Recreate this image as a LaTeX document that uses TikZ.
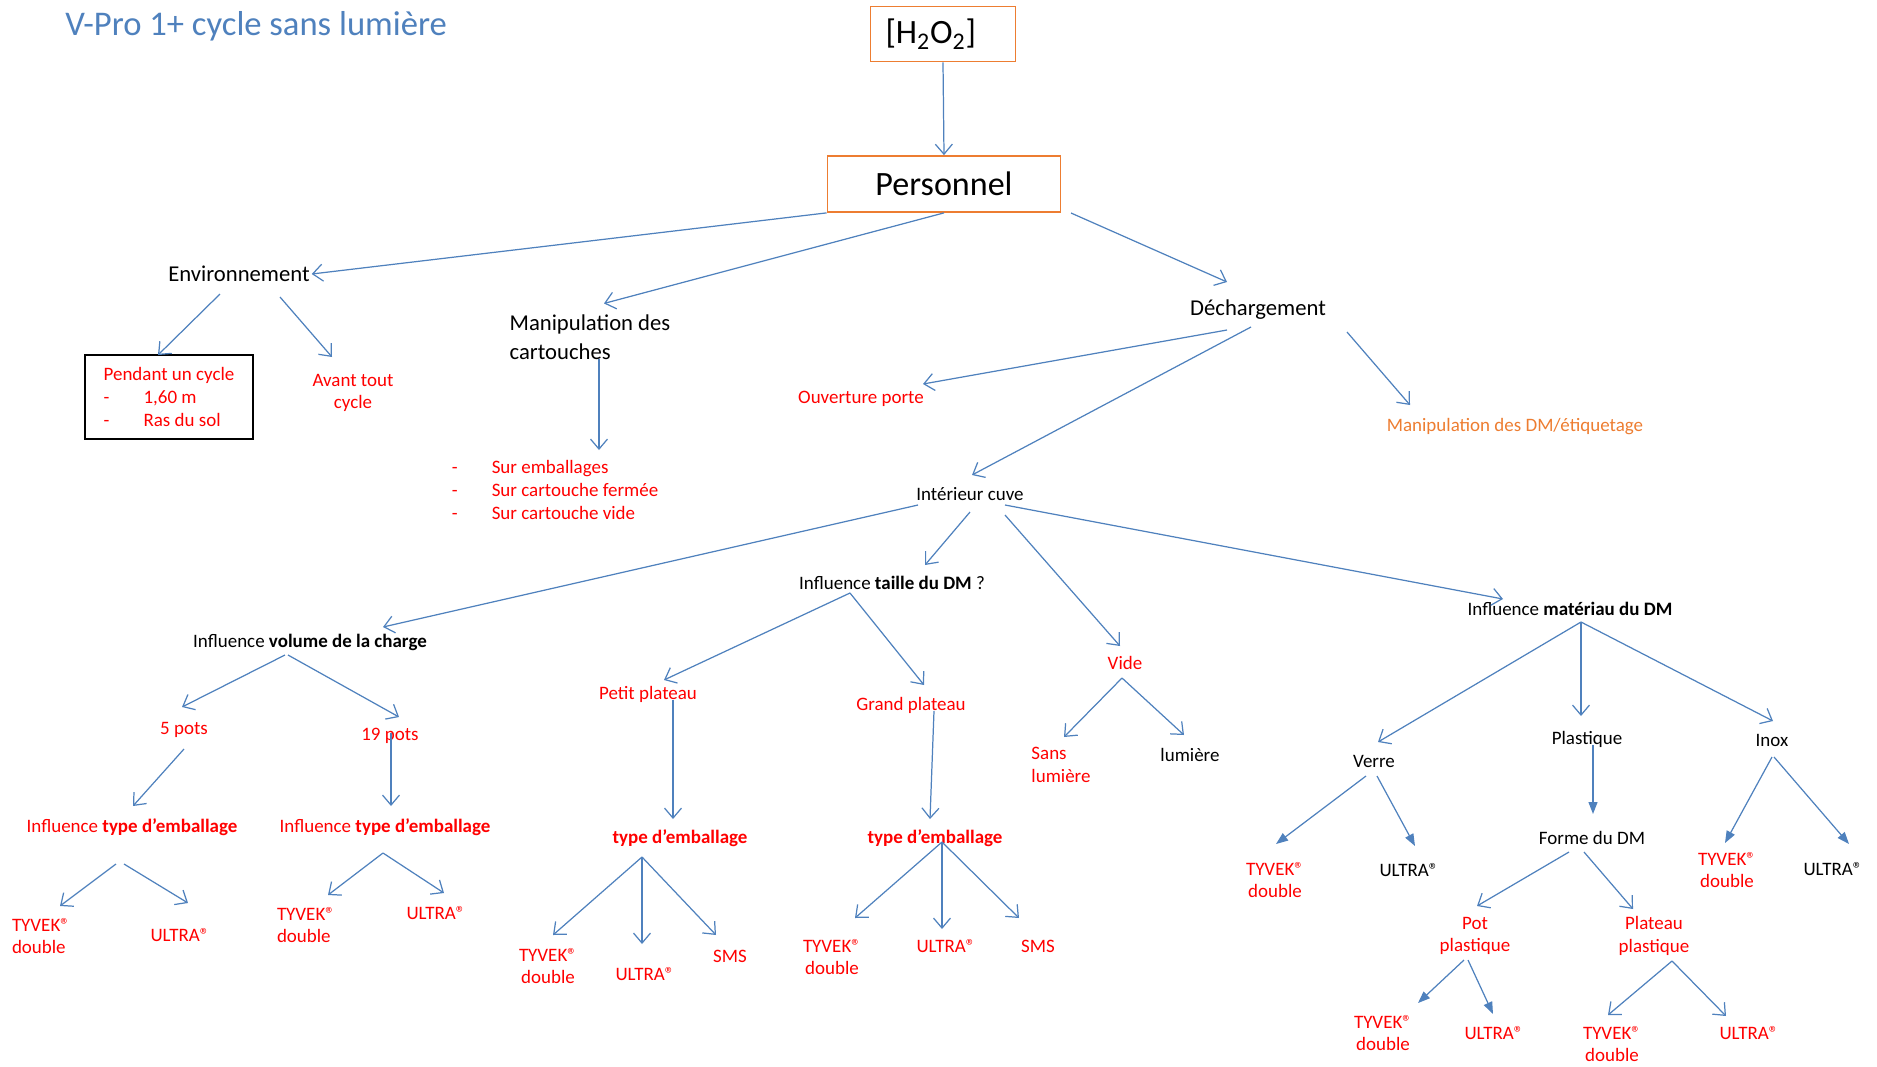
\documentclass[tikz,border=0pt]{standalone}
\usepackage{fontspec}
\setmainfont{Carlito}
\usetikzlibrary{arrows.meta,positioning}
\definecolor{arrowblue}{RGB}{79,129,189}
\definecolor{titleblue}{RGB}{79,129,189}
\definecolor{boxorange}{RGB}{237,125,49}
\definecolor{txtred}{RGB}{255,0,0}
\newcommand\fsm{\fontsize{10.8}{13}\selectfont}
\newcommand\fmd{\fontsize{12.9}{16.5}\selectfont}
\newcommand\fbig{\fontsize{19.4}{23}\selectfont}
\newcommand\fttl{\fontsize{19.7}{22}\selectfont}
\newcommand\regsign{®}

\begin{document}
\begin{tikzpicture}[
      x=0.02cm, y=-0.02cm,
      lbl/.style={inner sep=1pt, font=\fsm},
      rlbl/.style={lbl, text=txtred, align=center},
      mlbl/.style={inner sep=1pt, font=\fmd, align=left},
      obox/.style={draw=boxorange, line width=1pt, inner sep=0pt},
      arr/.style={-{Straight Barb[length=2mm,width=3.4mm]}, arrowblue, line width=0.7pt},
      farr/.style={-{Triangle[length=2.4mm,width=1.8mm]}, arrowblue, line width=0.7pt}
    ]
      \path[use as bounding box] (0,0) rectangle (1877,1066);

      % haut
      \node[anchor=west, inner sep=0pt, font=\fttl, text=titleblue] (title) at (65,26) {V-Pro 1+ cycle sans lumière};
      \node[obox, minimum width=2.9cm, minimum height=1.1cm, text width=2.3cm, inner xsep=0.3cm, align=left, font=\fbig] (h2o2) at (943,34) {[H\textsubscript{2}O\textsubscript{2}]};
      \node[obox, minimum width=4.66cm, minimum height=1.12cm, font=\fbig] (pers) at (944,184) {Personnel};

      % environnement
      \node[mlbl] (env) at (239,274) {Environnement};
      \node[draw=black, line width=1pt, minimum width=3.36cm, minimum height=1.68cm, align=left, text=txtred, font=\fsm] (pend) at (169,397) {Pendant un cycle\\\makebox[0.8cm][l]{-}1,60 m\\\makebox[0.8cm][l]{-}Ras du sol};
      \node[rlbl] (avant) at (353,393) {Avant tout\\cycle};

      % cartouches
      \node[mlbl] (manip) at (590,337) {Manipulation des\\cartouches};
      \node[lbl, text=txtred, align=left] (surs) at (555,490) {\makebox[0.8cm][l]{-}Sur emballages\\\makebox[0.8cm][l]{-}Sur cartouche fermée\\\makebox[0.8cm][l]{-}Sur cartouche vide};

      % dechargement
      \node[mlbl] (dech) at (1258,310) {Déchargement};
      \node[rlbl] (ouv) at (861,399) {Ouverture porte};
      \node[lbl, text=boxorange] (mdm) at (1515,427) {Manipulation des DM/étiquetage};
      \node[lbl] (cuve) at (970,494) {Intérieur cuve};

      % volume de la charge
      \node[lbl] (vol) at (310,642) {Influence \textbf{volume de la charge}};
      \node[rlbl] (p5) at (184,730) {5 pots};
      \node[rlbl] (p19) at (390,736) {19 pots};
      \node[rlbl] (tpl) at (132,827) {Influence \textbf{type d’emballage}};
      \node[rlbl] (tpr) at (385,827) {Influence \textbf{type d’emballage}};
      \node[rlbl, align=left] (tyl) at (41,936) {TYVEK\regsign\\double};
      \node[rlbl] (ull) at (180,935) {ULTRA\regsign};
      \node[rlbl, align=left] (tyr) at (306,925) {TYVEK\regsign\\double};
      \node[rlbl] (ulr) at (436,913) {ULTRA\regsign};

      % taille du DM
      \node[lbl] (taille) at (892,583) {Influence \textbf{taille du DM} ?};
      \node[rlbl] (petit) at (648,694) {Petit plateau};
      \node[rlbl] (grand) at (911,705) {Grand plateau};
      \node[rlbl, font=\fsm\bfseries] (tel) at (680,838) {type d’emballage};
      \node[rlbl, font=\fsm\bfseries] (ter) at (935,838) {type d’emballage};
      \node[rlbl] (tyel) at (548,966) {TYVEK\regsign\\double};
      \node[rlbl] (ulel) at (645,974) {ULTRA\regsign};
      \node[rlbl] (smsl) at (730,956) {SMS};
      \node[rlbl] (tyer) at (832,957) {TYVEK\regsign\\double};
      \node[rlbl] (uler) at (946,946) {ULTRA\regsign};
      \node[rlbl] (smsr) at (1038,946) {SMS};

      % vide
      \node[rlbl] (vide) at (1125,663) {Vide};
      \node[rlbl, align=left] (sansl) at (1061,765) {Sans\\lumière};
      \node[lbl] (lum) at (1190,755) {lumière};

      % materiau du DM
      \node[lbl] (mat) at (1570,609) {Influence \textbf{matériau du DM}};
      \node[lbl] (verre) at (1374,761) {Verre};
      \node[lbl] (plast) at (1587,739) {Plastique};
      \node[lbl] (inox) at (1772,740) {Inox};
      \node[rlbl] (tyv) at (1275,880) {TYVEK\regsign\\double};
      \node[lbl] (ulv) at (1409,870) {ULTRA\regsign};
      \node[lbl] (forme) at (1592,838) {Forme du DM};
      \node[rlbl] (pot) at (1475,936) {Pot\\plastique};
      \node[rlbl] (plat) at (1654,936) {Plateau\\plastique};
      \node[rlbl] (typ) at (1383,1033) {TYVEK\regsign\\double};
      \node[rlbl] (ulp) at (1494,1033) {ULTRA\regsign};
      \node[rlbl] (typl) at (1612,1044) {TYVEK\regsign\\double};
      \node[rlbl] (ulpl) at (1749,1033) {ULTRA\regsign};
      \node[rlbl] (tyi) at (1727,870) {TYVEK\regsign\\double};
      \node[lbl] (uli) at (1833,869) {ULTRA\regsign};

      % fleches
      \draw[arr] (h2o2.south) -- (pers.north);
      \draw[arr] (pers.south west) -- (env.east);
      \draw[arr] (pers.south) -- ([shift={(14,-9)}]manip.north);
      \draw[arr] ([shift={(127,29)}]pers.center) -- ([shift={(-31,-28)}]dech.center);
      \draw[arr] ([shift={(-19,20)}]env.center) -- ([shift={(-11,-42)}]pend.center);
      \draw[arr] ([shift={(41,23)}]env.center) -- ([shift={(-21,-36)}]avant.center);
      \draw[arr] ([shift={(9,22)}]manip.center) -- ([shift={(44,-40)}]surs.center);
      \draw[arr] ([shift={(-31,20)}]dech.center) -- ([shift={(62,-15)}]ouv.center);
      \draw[arr] ([shift={(-7,17)}]dech.center) -- ([shift={(2,-19)}]cuve.center);
      \draw[arr] ([shift={(89,22)}]dech.center) -- ([shift={(-105,-22)}]mdm.center);

      \draw[arr] ([shift={(-52,11)}]cuve.center) -- ([shift={(73,-15)}]vol.center);
      \draw[arr] ([shift={(0,18)}]cuve.center) -- ([shift={(33,-18)}]taille.center);
      \draw[arr] ([shift={(35,21)}]cuve.center) -- ([shift={(-5,-17)}]vide.center);
      \draw[arr] ([shift={(35,11)}]cuve.center) -- ([shift={(-67,-10)}]mat.center);

      \draw[arr] ([shift={(-25,13)}]vol.center) -- ([shift={(-2,-23)}]p5.center);
      \draw[arr] ([shift={(-22,13)}]vol.center) -- ([shift={(9,-19)}]p19.center);
      \draw[arr] ([shift={(0,19)}]p5.center) -- ([shift={(1,-21)}]tpl.center);
      \draw[arr] ([shift={(1,-3)}]p19.center) -- ([shift={(6,-21)}]tpr.center);
      \draw[arr] ([shift={(-16,37)}]tpl.center) -- ([shift={(19,-30)}]tyl.center);
      \draw[arr] ([shift={(-8,37)}]tpl.center) -- ([shift={(8,-32)}]ull.center);
      \draw[arr] ([shift={(-2,26)}]tpr.center) -- ([shift={(22,-30)}]tyr.center);
      \draw[arr] ([shift={(-2,26)}]tpr.center) -- ([shift={(8,-20)}]ulr.center);

      \draw[arr] ([shift={(-42,10)}]taille.center) -- ([shift={(16,-14)}]petit.center);
      \draw[arr] ([shift={(-42,10)}]taille.center) -- ([shift={(13,-20)}]grand.center);
      \draw[arr] ([shift={(25,6)}]petit.center) -- ([shift={(-7,-19)}]tel.center);
      \draw[arr] ([shift={(23,6)}]grand.center) -- ([shift={(-5,-19)}]ter.center);
      \draw[arr] ([shift={(-38,19)}]tel.center) -- ([shift={(5,-31)}]tyel.center);
      \draw[arr] ([shift={(-38,19)}]tel.center) -- ([shift={(-3,-30)}]ulel.center);
      \draw[arr] ([shift={(-38,19)}]tel.center) -- ([shift={(-14,-21)}]smsl.center);
      \draw[arr] ([shift={(7,4)}]ter.center) -- ([shift={(23,-39)}]tyer.center);
      \draw[arr] ([shift={(7,4)}]ter.center) -- ([shift={(-4,-17)}]uler.center);
      \draw[arr] ([shift={(7,4)}]ter.center) -- ([shift={(-19,-28)}]smsr.center);

      \draw[arr] ([shift={(-3,15)}]vide.center) -- ([shift={(3,-28)}]sansl.center);
      \draw[arr] ([shift={(-3,15)}]vide.center) -- ([shift={(-6,-20)}]lum.center);

      \draw[arr] ([shift={(11,13)}]mat.center) -- ([shift={(4,-19)}]verre.center);
      \draw[arr] ([shift={(11,13)}]mat.center) -- ([shift={(-6,-23)}]plast.center);
      \draw[arr] ([shift={(11,13)}]mat.center) -- ([shift={(1,-19)}]inox.center);
      \draw[farr] ([shift={(-8,15)}]verre.center) -- ([shift={(1,-36)}]tyv.center);
      \draw[farr] ([shift={(3,15)}]verre.center) -- ([shift={(6,-24)}]ulv.center);
      \draw[farr] ([shift={(6,6)}]plast.center) -- ([shift={(1,-24)}]forme.center);
      \draw[arr] ([shift={(-23,14)}]forme.center) -- ([shift={(2,-30)}]pot.center);
      \draw[arr] ([shift={(-8,14)}]forme.center) -- ([shift={(-21,-27)}]plat.center);
      \draw[farr] ([shift={(-11,24)}]pot.center) -- ([shift={(35,-30)}]typ.center);
      \draw[farr] ([shift={(-7,24)}]pot.center) -- ([shift={(-1,-19)}]ulp.center);
      \draw[arr] ([shift={(18,25)}]plat.center) -- ([shift={(-4,-29)}]typl.center);
      \draw[arr] ([shift={(18,25)}]plat.center) -- ([shift={(-23,-17)}]ulpl.center);
      \draw[farr] ([shift={(0,17)}]inox.center) -- ([shift={(-2,-27)}]tyi.center);
      \draw[farr] ([shift={(2,17)}]inox.center) -- ([shift={(16,-25)}]uli.center);
    \end{tikzpicture}
\end{document}
